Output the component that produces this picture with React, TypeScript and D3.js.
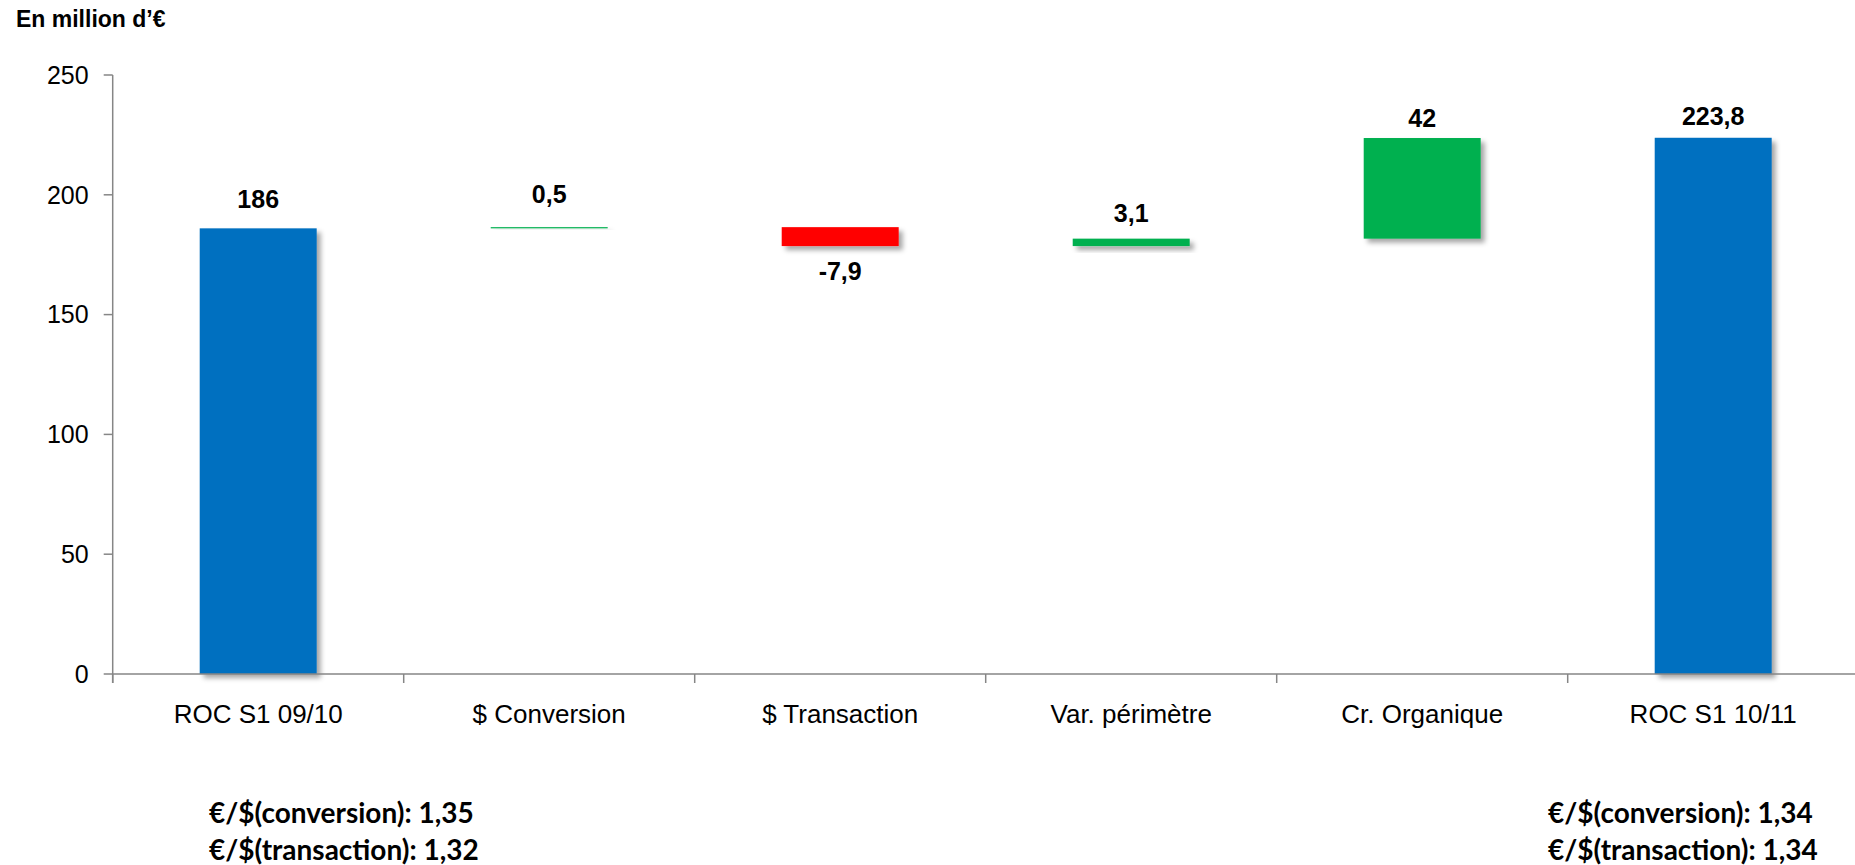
import React from "react";
import * as d3 from "d3";

const categories = ["ROC S1 09/10", "$ Conversion", "$ Transaction", "Var. périmètre", "Cr. Organique", "ROC S1 10/11"];
const values = [186, 0.5, -7.9, 3.1, 42, 223.8];
const kinds = ["total", "delta", "delta", "delta", "delta", "total"];
const valueLabels = ["186", "0,5", "-7,9", "3,1", "42", "223,8"];
const yTicks = [0, 50, 100, 150, 200, 250];
const notesLeft = ["€/$(conversion): 1,35", "€/$(transaction): 1,32"];
const notesRight = ["€/$(conversion): 1,34", "€/$(transaction): 1,34"];
const title = "En million d’€";

// style-only arrays
const labelGap = [20, 24, 34, 17, 11, 13];

const W = 1855;
const H = 865;
const axisX = 112.7;
const yTop = 75;
const yZero = 674;
const xEnd = axisX + 291 * 6;
const SANS = "'Liberation Sans', Arial, sans-serif";

export default function App() {
  const y = d3.scaleLinear().domain([0, 250]).range([yZero, yTop]);
  const x = d3.scaleBand<string>().domain(categories).range([axisX, xEnd]).paddingInner(0.598).paddingOuter(0.299);

  let cum = 0;
  const bars = categories.map((c, i) => {
    let lo: number, hi: number;
    if (kinds[i] === "total") {
      lo = 0;
      hi = values[i];
      cum = values[i];
    } else {
      const start = cum;
      cum = cum + values[i];
      lo = Math.min(start, cum);
      hi = Math.max(start, cum);
    }
    const color = kinds[i] === "total" ? "#0070C0" : values[i] < 0 ? "#FF0000" : "#00B050";
    return { c, i, lo, hi, color, v: values[i] };
  });

  const step = x.step();
  const boundaries = d3.range(categories.length + 1).map((k) => axisX + k * step);

  return (
    <svg width={W} height={H} style={{ position: "absolute", left: 0, top: 0, display: "block", background: "#fff" }}>
      <defs>
        <filter id="shadow" x="-20%" y="-20%" width="150%" height="200%">
          <feDropShadow dx="4" dy="4" stdDeviation="2.5" floodColor="#000" floodOpacity="0.35" />
        </filter>
      </defs>
      <rect x={0} y={0} width={W} height={H} fill="#fff" />
      <text x={16} y={27} fontFamily={SANS} fontWeight="bold" fontSize={23} fill="#000">
        {title}
      </text>

      {/* y axis */}
      <line x1={axisX} x2={axisX} y1={y(250)} y2={yZero + 9} stroke="#868686" strokeWidth={1.5} />
      {yTicks.map((t) => (
        <g key={t}>
          <line x1={axisX - 9} x2={axisX} y1={y(t)} y2={y(t)} stroke="#868686" strokeWidth={1.5} />
          <text x={axisX - 24} y={y(t)} dy="0.35em" textAnchor="end" fontFamily={SANS} fontSize={25} fill="#000">
            {t}
          </text>
        </g>
      ))}

      {/* bars */}
      {bars.map((b) => {
        const top = y(b.hi);
        const h = Math.max(y(b.lo) - y(b.hi), 1.2);
        return (
          <rect key={b.c} x={x(b.c)} y={top} width={x.bandwidth()} height={h} fill={b.color} filter="url(#shadow)" />
        );
      })}

      {/* x axis */}
      <line x1={axisX} x2={xEnd} y1={yZero} y2={yZero} stroke="#868686" strokeWidth={1.5} />
      {boundaries.map((bx, k) => (
        <line key={k} x1={bx} x2={bx} y1={yZero} y2={yZero + 9} stroke="#868686" strokeWidth={1.5} />
      ))}
      {categories.map((c) => (
        <text key={c} x={(x(c) as number) + x.bandwidth() / 2} y={723} textAnchor="middle" fontFamily={SANS} fontSize={26} fill="#000">
          {c}
        </text>
      ))}

      {/* value labels */}
      {bars.map((b) => {
        const cx = (x(b.c) as number) + x.bandwidth() / 2;
        const yy = b.v < 0 ? y(b.lo) + labelGap[b.i] : y(b.hi) - labelGap[b.i];
        return (
          <text key={"l" + b.c} x={cx} y={yy} textAnchor="middle" fontFamily={SANS} fontWeight="bold" fontSize={25} fill="#000">
            {valueLabels[b.i]}
          </text>
        );
      })}

      {/* notes */}
      {notesLeft.map((n, k) => (
        <text key={"nl" + k} x={209} y={823 + k * 37} fontFamily="Lato, sans-serif" fontWeight="bold" fontSize={28} fill="#000">
          {n}
        </text>
      ))}
      {notesRight.map((n, k) => (
        <text key={"nr" + k} x={1548} y={823 + k * 37} fontFamily="Lato, sans-serif" fontWeight="bold" fontSize={28} fill="#000">
          {n}
        </text>
      ))}
    </svg>
  );
}
